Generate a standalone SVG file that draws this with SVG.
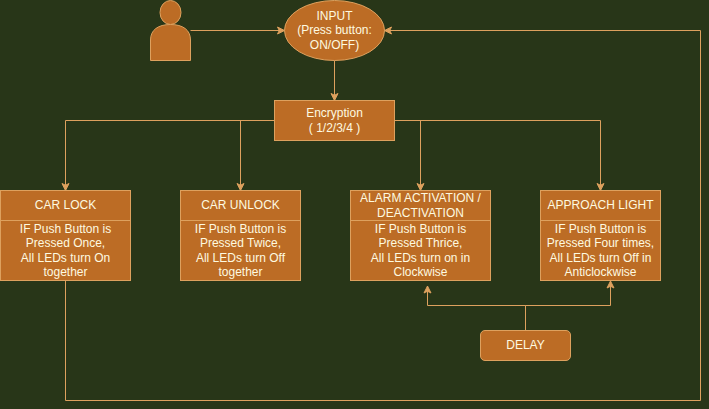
<svg xmlns="http://www.w3.org/2000/svg" width="709" height="409" viewBox="0 0 709 409">
<style>
.s{fill:#bc6c25;stroke:#dda15e;stroke-width:1}
.c{fill:none;stroke:#dda15e;stroke-width:1}
text{font-family:"Liberation Sans",Arial,sans-serif;font-size:12px;fill:#fefae0;text-anchor:middle}
</style>
<defs>
<marker id="a" markerUnits="userSpaceOnUse" markerWidth="10" markerHeight="10" refX="7.5" refY="4" orient="auto" viewBox="0 0 10 8"><path d="M0.5 0.5L7.5 4L0.5 7.5L2.25 4Z" fill="#dda15e" stroke="#dda15e"/></marker>
</defs>
<rect width="709" height="409" fill="#283618"/>
<g id="connectors">
<path class="c" marker-end="url(#a)" d="M190.5 30.5H284.5"/>
<path class="c" marker-end="url(#a)" d="M334.5 60.5V100.5"/>
<path class="c" marker-end="url(#a)" d="M274.5 120.5H65.5V190.5"/>
<path class="c" marker-end="url(#a)" d="M274.5 120.5H240.5V190.5"/>
<path class="c" marker-end="url(#a)" d="M394.5 120.5H420.5V190.5"/>
<path class="c" marker-end="url(#a)" d="M394.5 120.5H600.5V190.5"/>
<path class="c" marker-end="url(#a)" d="M65.5 280.5V400.5H700.5V30.5H384.5"/>
<path class="c" marker-end="url(#a)" d="M525.5 330.5V305.5H427.5V286"/>
<path class="c" marker-end="url(#a)" d="M525.5 330.5V305.5H610.5V281"/>
</g>
<g id="user"><ellipse class="s" cx="170.5" cy="12.5" rx="10.5" ry="12"/><path class="s" d="M150.5 60.5V40C150.5 30 158 24.5 170.5 24.5C183 24.5 190.5 30 190.5 40V60.5Z"/></g>
<g id="input"><ellipse class="s" cx="334.5" cy="30.5" rx="50" ry="30"/><text x="334.5" y="20">INPUT</text><text x="334.5" y="34">(Press button:</text><text x="334.5" y="49">ON/OFF)</text></g>
<g id="encryption"><rect class="s" x="274.5" y="100.5" width="120" height="40"/><text x="334.5" y="117">Encryption</text><text x="334.5" y="132">( 1/2/3/4 )</text></g>
<g id="car-lock"><rect class="s" x="0.5" y="190.5" width="130" height="90"/><path class="c" d="M0.5 220.5H130.5"/><text x="65.5" y="209">CAR LOCK</text><text x="65.5" y="233">IF Push Button is</text><text x="65.5" y="247">Pressed Once,</text><text x="65.5" y="262">All LEDs turn On</text><text x="65.5" y="276">together</text></g>
<g id="car-unlock"><rect class="s" x="180.5" y="190.5" width="120" height="90"/><path class="c" d="M180.5 220.5H300.5"/><text x="240.5" y="209">CAR UNLOCK</text><text x="240.5" y="233">IF Push Button is</text><text x="240.5" y="247">Pressed Twice,</text><text x="240.5" y="262">All LEDs turn Off</text><text x="240.5" y="276">together</text></g>
<g id="alarm"><rect class="s" x="350.5" y="190.5" width="140" height="90"/><path class="c" d="M350.5 220.5H490.5"/><text x="420.5" y="202">ALARM ACTIVATION /</text><text x="420.5" y="217">DEACTIVATION</text><text x="420.5" y="233">IF Push Button is</text><text x="420.5" y="247">Pressed Thrice,</text><text x="420.5" y="262">All LEDs turn on in</text><text x="420.5" y="276">Clockwise</text></g>
<g id="approach"><rect class="s" x="540.5" y="190.5" width="120" height="90"/><path class="c" d="M540.5 220.5H660.5"/><text x="600.5" y="209">APPROACH LIGHT</text><text x="600.5" y="233">IF Push Button is</text><text x="600.5" y="247">Pressed Four times,</text><text x="600.5" y="262">All LEDs turn Off in</text><text x="600.5" y="276">Anticlockwise</text></g>
<g id="delay"><rect class="s" x="480.5" y="330.5" width="90" height="30" rx="4.5"/><text x="525.5" y="349">DELAY</text></g>
</svg>
